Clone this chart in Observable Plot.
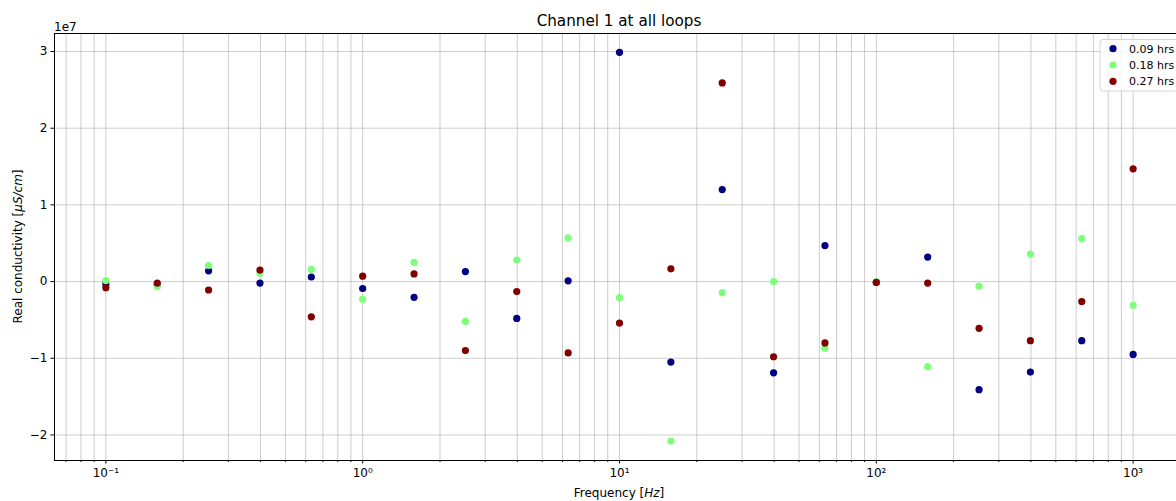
<!DOCTYPE html>
<html><head><meta charset="utf-8">
<script src="https://cdn.jsdelivr.net/npm/d3@7"></script>
<script src="https://cdn.jsdelivr.net/npm/@observablehq/plot@0.6"></script>
<style>html,body{margin:0;padding:0;background:#fff;overflow:hidden;width:1176px;height:501px}svg{max-width:none!important}</style>
</head><body><div id="chart"></div>
<script>
// ---- data (conductivity values in units of 1e7 µS/cm) ----
const frequencies = [0.1, 0.1585, 0.2512, 0.3981, 0.631, 1, 1.585, 2.512, 3.981, 6.31, 10, 15.85, 25.12, 39.81, 63.1, 100, 158.5, 251.2, 398.1, 631, 1000];
const seriesNames = ["0.09 hrs", "0.18 hrs", "0.27 hrs"];
const seriesColors = ["#000080", "#7dff7a", "#800000"];
const values009 = [-0.03, -0.04, 0.14, -0.02, 0.06, -0.09, -0.205, 0.13, -0.48, 0.01, 2.99, -1.05, 1.20, -1.19, 0.47, -0.01, 0.32, -1.41, -1.18, -0.77, -0.95];
const values018 = [0.013, -0.065, 0.21, 0.11, 0.16, -0.23, 0.25, -0.52, 0.28, 0.57, -0.21, -2.08, -0.145, 0.0, -0.87, 0.0, -1.11, -0.06, 0.36, 0.56, -0.31];
const values027 = [-0.08, -0.02, -0.11, 0.15, -0.46, 0.07, 0.10, -0.90, -0.13, -0.93, -0.54, 0.166, 2.59, -0.98, -0.80, -0.01, -0.02, -0.61, -0.77, -0.26, 1.47];
const xTicks = [0.1, 1, 10, 100, 1000];
const xTickLabels = ["10\u207B\u00B9", "10\u2070", "10\u00B9", "10\u00B2", "10\u00B3"];
const yTicks = [-2, -1, 0, 1, 2, 3];
const yTickLabels = ["\u22122", "\u22121", "0", "1", "2", "3"];
const titleText = "Channel 1 at all loops";
const yOffsetText = "1e7";

const seriesValues = [values009, values018, values027];
const rows = seriesNames.flatMap((s, si) => frequencies.map((f, i) => ({f, v: seriesValues[si][i], s})));

// minor log ticks (2..9 × each decade)
const xMinor = [];
for (let e = -2; e <= 3; e++) for (let k = 2; k <= 9; k++) {
  const t = k * 10 ** e;
  if (t > 10 ** -1.2 && t < 10 ** 3.2) xMinor.push(t);
}
const xGrid = [...xTicks, ...xMinor];

const font = "DejaVu Sans, sans-serif";
const ML = 54, MR = 16, MT = 33, MB = 41, W = 1200, H = 501;

const plot = Plot.plot({
  width: W, height: H,
  marginLeft: ML, marginRight: MR, marginTop: MT, marginBottom: MB,
  style: {fontFamily: font, fontSize: "12px", background: "#fff", color: "#000", overflow: "visible", maxWidth: "none"},
  x: {type: "log", domain: [10 ** -1.2, 10 ** 3.2], axis: null},
  y: {domain: [-2.333, 3.235], axis: null},
  color: {domain: seriesNames, range: seriesColors},
  marks: [
    Plot.ruleX(xGrid, {stroke: "#b0b0b0", strokeWidth: 0.8, strokeOpacity: 0.8}),
    Plot.ruleY(yTicks, {stroke: "#b0b0b0", strokeWidth: 0.8, strokeOpacity: 0.8}),
    Plot.axisX({ticks: xMinor, tickFormat: () => "", tickSize: 2, label: null}),
    Plot.axisX({ticks: xTicks, tickFormat: d => xTickLabels[xTicks.indexOf(d)], tickSize: 3.5, tickPadding: 4, fontSize: 12, label: null}),
    Plot.axisY({ticks: yTicks, tickFormat: d => yTickLabels[yTicks.indexOf(d)], tickSize: 3.5, tickPadding: 3.5, fontSize: 12, label: null}),
    Plot.dot(rows, {x: "f", y: "v", fill: "s", r: 3.6}),
    Plot.frame({stroke: "#000", strokeWidth: 1})
  ]
});
plot.style.maxWidth = "none";

const svg = d3.select(plot);
const cx = (ML + W - MR) / 2;
const cy = (MT + H - MB) / 2;
// title
svg.append("text").attr("x", cx).attr("y", 25.5).attr("text-anchor", "middle")
  .attr("font-family", font).attr("font-size", 15.2).attr("fill", "#000").text(titleText);
// offset text
svg.append("text").attr("x", ML).attr("y", 30.5).attr("text-anchor", "start").attr("font-family", font)
  .attr("font-size", 12).attr("fill", "#000").text(yOffsetText);
// x label
const xl = svg.append("text").attr("x", cx).attr("y", 497).attr("text-anchor", "middle")
  .attr("font-family", font).attr("font-size", 12).attr("fill", "#000");
xl.append("tspan").text("Frequency [");
xl.append("tspan").attr("font-style", "italic").text("Hz");
xl.append("tspan").text("]");
// y label
const yl = svg.append("text").attr("transform", `translate(22,${cy}) rotate(-90)`).attr("text-anchor", "middle")
  .attr("font-family", font).attr("font-size", 12).attr("fill", "#000");
yl.append("tspan").text("Real conductivity [");
yl.append("tspan").attr("font-style", "italic").text("\u03BCS/cm");
yl.append("tspan").text("]");
// legend
const LX = 1100;
const lg = svg.append("g").attr("font-family", font).attr("font-size", 11).attr("text-anchor", "start");
lg.append("rect").attr("x", LX).attr("y", 39.5).attr("width", 84).attr("height", 51.5)
  .attr("rx", 3).attr("fill", "#fff").attr("fill-opacity", 0.8).attr("stroke", "#d6d6d6").attr("stroke-width", 1);
seriesNames.forEach((s, i) => {
  const y = 48.7 + i * 16.3;
  lg.append("circle").attr("cx", LX + 13).attr("cy", y).attr("r", 3.6).attr("fill", seriesColors[i]);
  lg.append("text").attr("x", LX + 29).attr("y", y).attr("dy", "0.36em").attr("fill", "#000").text(s);
});

document.getElementById("chart").appendChild(plot);
</script>
</body></html>
